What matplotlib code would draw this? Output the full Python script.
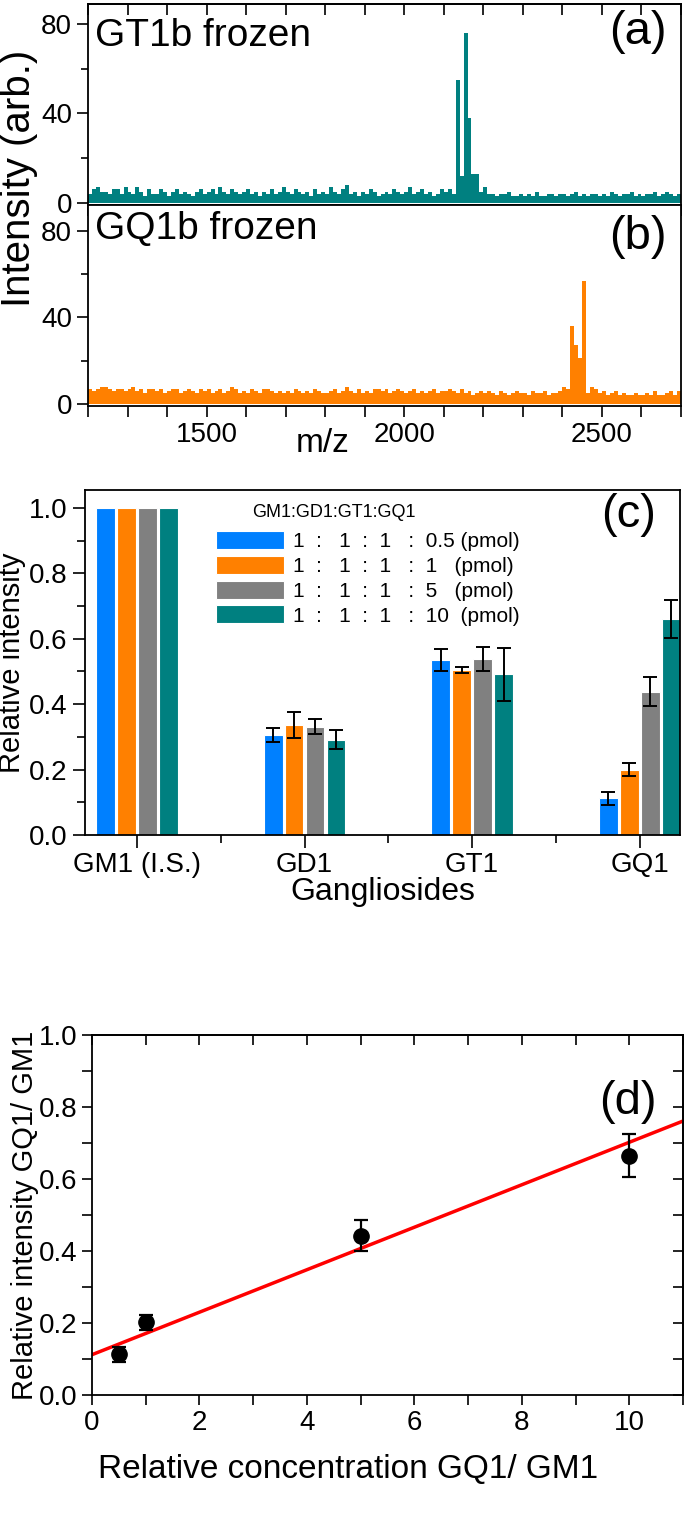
import numpy as np
import matplotlib
matplotlib.use('Agg')

import matplotlib.pyplot as plt
from matplotlib.ticker import MultipleLocator, FormatStrFormatter


# ---- (a), (b) spectra, one value per 10 m/z bin starting at 1200
mz_start = 1200
mz_step = 10
gt1b = [
    4, 6, 7, 5, 5, 4, 6, 6, 4, 7,
    5, 4, 7, 5, 3, 6, 4, 4, 6, 5,
    3, 5, 6, 4, 5, 4, 3, 5, 6, 4,
    5, 6, 4, 7, 5, 4, 6, 5, 4, 5,
    6, 4, 5, 3, 5, 4, 6, 4, 5, 7,
    5, 4, 6, 5, 4, 5, 3, 6, 4, 5,
    4, 7, 5, 4, 6, 8, 4, 5, 3, 5,
    4, 6, 5, 3, 4, 5, 4, 6, 5, 4,
    5, 7, 4, 5, 6, 4, 5, 3, 4, 6,
    5, 6, 4, 55, 12, 76, 38, 13, 13, 5,
    7, 4, 4, 3, 4, 4, 5, 3, 3, 4,
    3, 4, 3, 5, 3, 3, 4, 4, 3, 4,
    4, 3, 4, 5, 3, 4, 3, 4, 4, 3,
    4, 3, 5, 4, 3, 4, 4, 5, 3, 4,
    3, 4, 4, 5, 3, 4, 5, 4, 3, 4,
]
gq1b = [
    7, 6, 7, 8, 8, 7, 6, 7, 7, 6,
    7, 8, 6, 7, 5, 7, 7, 6, 7, 5,
    6, 7, 7, 5, 6, 7, 6, 5, 7, 6,
    7, 5, 6, 7, 5, 6, 8, 7, 5, 6,
    5, 7, 6, 5, 7, 7, 6, 5, 6, 5,
    6, 5, 7, 6, 5, 6, 5, 7, 6, 5,
    5, 6, 7, 5, 6, 8, 6, 5, 7, 5,
    6, 5, 7, 7, 6, 7, 5, 6, 7, 6,
    5, 6, 7, 5, 6, 5, 6, 7, 5, 6,
    6, 7, 6, 5, 7, 5, 6, 4, 5, 6,
    5, 6, 5, 4, 6, 5, 4, 5, 6, 5,
    5, 4, 6, 5, 5, 6, 4, 5, 5, 6,
    8, 7, 36, 27, 21, 57, 5, 8, 7, 5,
    6, 4, 5, 6, 4, 5, 4, 4, 5, 4,
    4, 5, 4, 6, 4, 4, 5, 6, 4, 6,
]

# ---- (c) relative intensities
gangliosides = ['GM1 (I.S.)', 'GD1', 'GT1', 'GQ1']
ratios = ['0.5', '1', '5', '10']
rel_int = [
    [1.0, 0.305, 0.535, 0.113],
    [1.0, 0.336, 0.505, 0.200],
    [1.0, 0.331, 0.539, 0.438],
    [1.0, 0.292, 0.491, 0.661],
]
rel_err = [
    [0, 0.022, 0.035, 0.020],
    [0, 0.040, 0.010, 0.021],
    [0, 0.023, 0.036, 0.045],
    [0, 0.030, 0.080, 0.058],
]
bar_colors = ['#0080ff', '#ff8000', '#808080', '#008080']

# ---- (d) calibration
conc = [0.5, 1, 5, 10]
gq1_rel = [0.113, 0.202, 0.443, 0.665]
gq1_err = [0.020, 0.021, 0.043, 0.060]
fit_x = [0, 11]
fit_intercept = 0.112
fit_slope = 0.059


plt.rcParams['font.family'] = ['Liberation Sans', 'DejaVu Sans']
plt.rcParams['axes.linewidth'] = 1.3

W, H = 685, 1525
fig = plt.figure(figsize=(W / 100, H / 100), dpi=100)


def rect(x0, y0, x1, y1):
    # pixel box -> figure fraction
    return [x0 / W, 1 - y1 / H, (x1 - x0) / W, (y1 - y0) / H]


tick_fs = 20
tw = 1.2

# ---- spectra
ax_a = fig.add_axes(rect(88, 4, 681, 205))
ax_b = fig.add_axes(rect(88, 205, 681, 406), sharex=ax_a)
edges = mz_start + mz_step * np.arange(len(gt1b) + 1)
for ax, vals, col, top_lim in [(ax_a, gt1b, '#008080', 89), (ax_b, gq1b, '#ff8000', 92)]:
    ax.stairs(vals, edges, fill=True, color=col, baseline=0)
    ax.set_xlim(1200, 2700)
    ax.set_ylim(-1, top_lim)
    ax.yaxis.set_major_locator(MultipleLocator(40))
    ax.yaxis.set_minor_locator(MultipleLocator(20))
    ax.xaxis.set_major_locator(MultipleLocator(500))
    ax.xaxis.set_minor_locator(MultipleLocator(100))
    ax.tick_params(which='both', direction='out', labelsize=tick_fs, width=tw, length=8)
    ax.tick_params(axis='y', which='minor', length=5)
ax_a.tick_params(axis='x', which='both', labelbottom=False)
top_a = ax_a.secondary_xaxis('top')
top_a.xaxis.set_major_locator(MultipleLocator(100))
top_a.tick_params(direction='in', labeltop=False, length=8, width=tw)

ax_a.text(0.012, 0.93, 'GT1b frozen', transform=ax_a.transAxes, fontsize=28, va='top')
ax_a.text(0.975, 0.97, '(a)', transform=ax_a.transAxes, fontsize=34, va='top', ha='right')
ax_b.text(0.012, 0.97, 'GQ1b frozen', transform=ax_b.transAxes, fontsize=28, va='top')
ax_b.text(0.975, 0.95, '(b)', transform=ax_b.transAxes, fontsize=34, va='top', ha='right')
ax_b.set_xlabel('m/z', fontsize=24)
ax_b.xaxis.set_label_coords(0.396, -0.11)
fig.text(19 / W, 1 - 178 / H, 'Intensity (arb.)', rotation=90, fontsize=29,
         va='center', ha='center')

# ---- (c) bars
ax_c = fig.add_axes(rect(85, 490, 680, 835))
xc = np.arange(len(gangliosides))
for i in range(4):
    pos = xc + (i - 1.5) * 0.125
    ax_c.bar(pos, rel_int[i], 0.112, color=bar_colors[i], edgecolor='white', lw=0.8,
             label=f'1  :   1  :  1   :  {ratios[i]:<4s}(pmol)')
    err = np.array(rel_err[i])
    m = err > 0
    ax_c.errorbar(pos[m], np.array(rel_int[i])[m], err[m], fmt='none', ecolor='black',
                  elinewidth=1.4, capsize=5, capthick=1.4)
ax_c.set_xlim(-0.31, 3.24)
ax_c.set_ylim(0, 1.055)
ax_c.set_xticks(xc)
ax_c.set_xticklabels(gangliosides)
ax_c.set_xticks(xc[:-1] + 0.5, minor=True)
ax_c.yaxis.set_major_locator(MultipleLocator(0.2))
ax_c.yaxis.set_minor_locator(MultipleLocator(0.1))
ax_c.yaxis.set_major_formatter(FormatStrFormatter('%.1f'))
ax_c.tick_params(which='both', direction='out', labelsize=tick_fs, width=tw)
ax_c.tick_params(which='major', length=9)
ax_c.tick_params(which='minor', length=6)
ax_c.set_ylabel('Relative intensity', fontsize=21, labelpad=2)
ax_c.set_xlabel('Gangliosides', fontsize=23, labelpad=-1)
ax_c.legend(loc='upper left', bbox_to_anchor=(0.188, 0.935),
            frameon=False, fontsize=15, handlelength=3.3,
            handleheight=0.95, labelspacing=0.22, handletextpad=0.4)
ax_c.text(0.418, 0.935, 'GM1:GD1:GT1:GQ1', transform=ax_c.transAxes, fontsize=13,
          ha='center', va='center')
ax_c.text(0.96, 0.99, '(c)', transform=ax_c.transAxes, fontsize=34, va='top', ha='right')

# ---- (d) calibration
ax_d = fig.add_axes(rect(92, 1035, 683, 1395))
fx = np.array(fit_x)
ax_d.plot(fx, fit_intercept + fit_slope * fx, color='red', lw=2.5)
ax_d.errorbar(conc, gq1_rel, gq1_err, fmt='o', color='black', ms=11,
              elinewidth=1.6, capsize=5, capthick=1.6)
ax_d.set_xlim(0, 11)
ax_d.set_ylim(0, 1.0)
ax_d.xaxis.set_major_locator(MultipleLocator(2))
ax_d.xaxis.set_minor_locator(MultipleLocator(1))
ax_d.yaxis.set_major_locator(MultipleLocator(0.2))
ax_d.yaxis.set_minor_locator(MultipleLocator(0.1))
ax_d.yaxis.set_major_formatter(FormatStrFormatter('%.1f'))
ax_d.tick_params(which='both', direction='out', labelsize=tick_fs, width=tw, length=7)
top = ax_d.secondary_xaxis('top')
top.xaxis.set_minor_locator(MultipleLocator(1))
top.xaxis.set_major_locator(MultipleLocator(2))
top.tick_params(which='both', direction='in', labeltop=False, length=7, width=tw)
right = ax_d.secondary_yaxis('right')
right.yaxis.set_major_locator(MultipleLocator(0.2))
right.yaxis.set_minor_locator(MultipleLocator(0.1))
right.tick_params(which='both', direction='in', labelright=False, length=7, width=tw)
ax_d.set_ylabel('Relative intensity GQ1/ GM1', fontsize=21, labelpad=0)
ax_d.set_xlabel('Relative concentration GQ1/ GM1', fontsize=24)
ax_d.xaxis.set_label_coords(0.433, -0.165)
ax_d.text(0.955, 0.875, '(d)', transform=ax_d.transAxes, fontsize=34, va='top', ha='right')

fig.savefig('out.png', dpi=100)
